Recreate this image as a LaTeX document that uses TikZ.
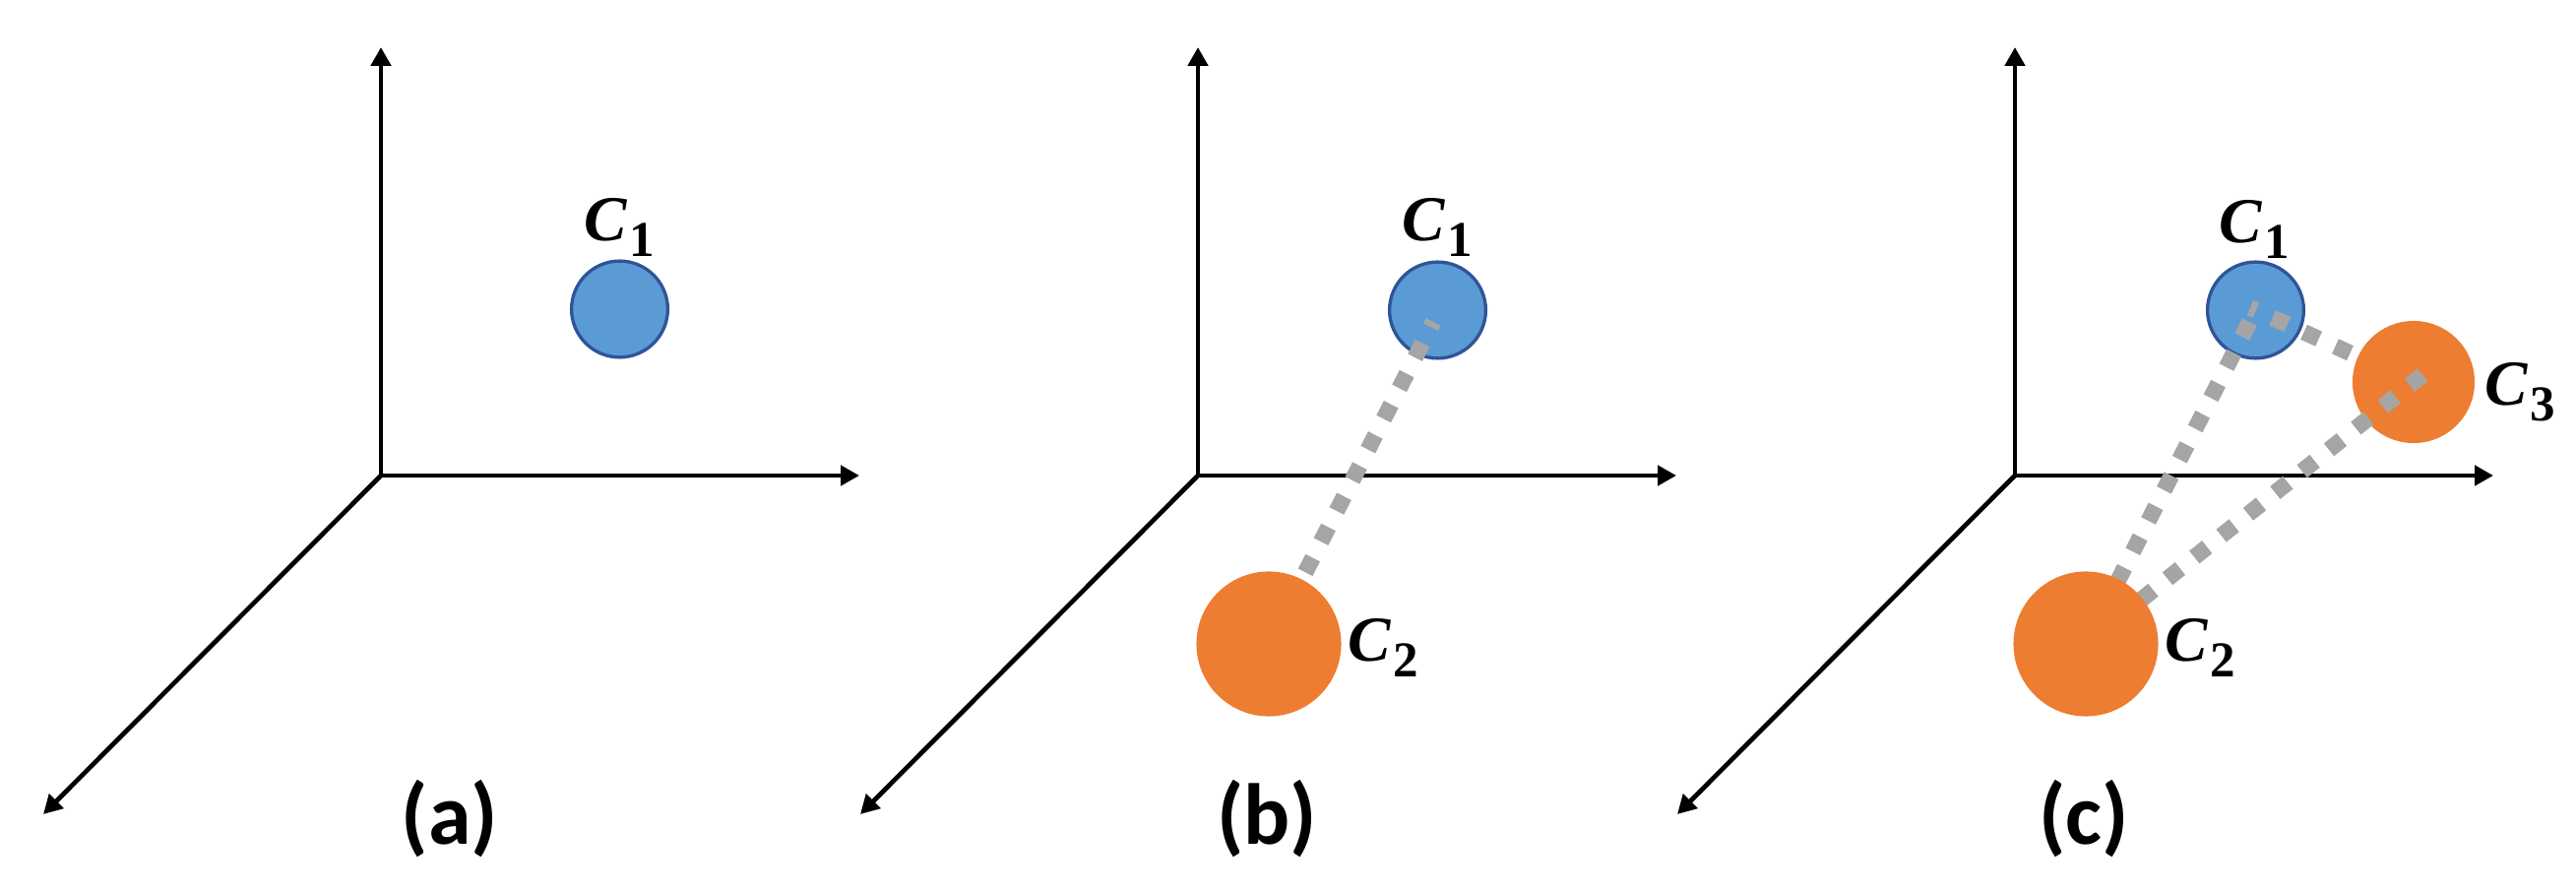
\documentclass[tikz,border=0pt]{standalone}
\usepackage{fontspec}
\setmainfont{Carlito}
\newfontfamily\lserif{Liberation Serif}
\usetikzlibrary{arrows.meta}
\definecolor{cblue}{HTML}{5B9BD5}
\definecolor{cblueline}{HTML}{2F5597}
\definecolor{corange}{HTML}{ED7D31}
\definecolor{cgray}{HTML}{A5A5A5}
\newcommand{\clab}[1]{{\lserif\fontsize{18.5}{20}\selectfont\bfseries\itshape C}\kern0.8pt\raisebox{-4.5pt}{\lserif\fontsize{14.5}{15}\selectfont\bfseries #1}}
\begin{document}
\begin{tikzpicture}[x=0.01cm,y=-0.01cm,
  every node/.style={inner sep=0pt, outer sep=0pt},
  tipstyle/.tip={Triangle[length=5.4pt,width=5.7pt]},
  axis/.style={line width=1.34pt, line join=miter, -tipstyle},
  axisboth/.style={line width=1.34pt, line join=miter, tipstyle-tipstyle},
  bluec/.style={circle, fill=cblue, draw=cblueline, line width=0.95pt, minimum size=0.977cm},
  orangec/.style={circle, fill=corange, minimum size=1.47cm},
  orangesm/.style={circle, fill=corange, minimum size=1.24cm},
  dotline/.style={draw=cgray, line width=4.7pt, dash pattern=on 4.7pt off 5.25pt},
  clabel/.style={anchor=base},
  plabel/.style={font=\fontsize{25}{28}\selectfont\bfseries}
]
\useasboundingbox (0,0) rectangle (2617,907);

% ---------- panel (a) ----------
\coordinate (Oa) at (387,483);
\coordinate (Ya) at (387,48);
\coordinate (Xa) at (873,483);
\coordinate (Za) at (44,827);
\draw[axisboth] (Ya) -- (Oa) -- (Xa);
\draw[axis] (Oa) -- (Za);
\node[bluec] (a1) at (629.5,314) {};
\node[clabel] (a1l) at (629,245) {\clab{1}};
\node[plabel] (pa) at (457,832) {(a)};

% ---------- panel (b) ----------
\coordinate (Ob) at (1217,483);
\coordinate (Yb) at (1217,48);
\coordinate (Xb) at (1703,483);
\coordinate (Zb) at (874,827);
\draw[axisboth] (Yb) -- (Ob) -- (Xb);
\draw[axis] (Ob) -- (Zb);
\node[bluec] (b1) at (1460.5,315) {};
\node[clabel] (b1l) at (1460,245) {\clab{1}};
\coordinate (b2c) at (1289,654);
\coordinate (b12s) at (1456,327);
\draw[dotline, dash phase=3.1pt] (b12s) -- (b2c);
\node[orangec] (b2) at (b2c) {};
\node[clabel] (b2l) at (1405,672) {\clab{2}};
\node[plabel] (pb) at (1287,832) {(b)};

% ---------- panel (c) ----------
\coordinate (Oc) at (2047,483);
\coordinate (Yc) at (2047,48);
\coordinate (Xc) at (2533,483);
\coordinate (Zc) at (1704,827);
\draw[axisboth] (Yc) -- (Oc) -- (Xc);
\draw[axis] (Oc) -- (Zc);
\node[bluec] (c1) at (2291.5,315) {};
\node[clabel] (c1l) at (2290,247) {\clab{1}};
\coordinate (c3c) at (2452,388);
\coordinate (c2c) at (2119,654);
\coordinate (c13s) at (2286,312.5);
\draw[dotline, dash phase=2.85pt] (c13s) -- (c3c);
\draw[dotline, dash phase=6.06pt] (c1.center) -- (c2c);
\node[orangesm] (c3) at (c3c) {};
\coordinate (c32s) at (2461,381);
\draw[dotline] (c32s) -- (c2c);
\node[orangec] (c2) at (c2c) {};
\node[clabel] (c3l) at (2560,412) {\clab{3}};
\node[clabel] (c2l) at (2235,672) {\clab{2}};
\node[plabel] (pc) at (2117,832) {(c)};
\end{tikzpicture}
\end{document}
